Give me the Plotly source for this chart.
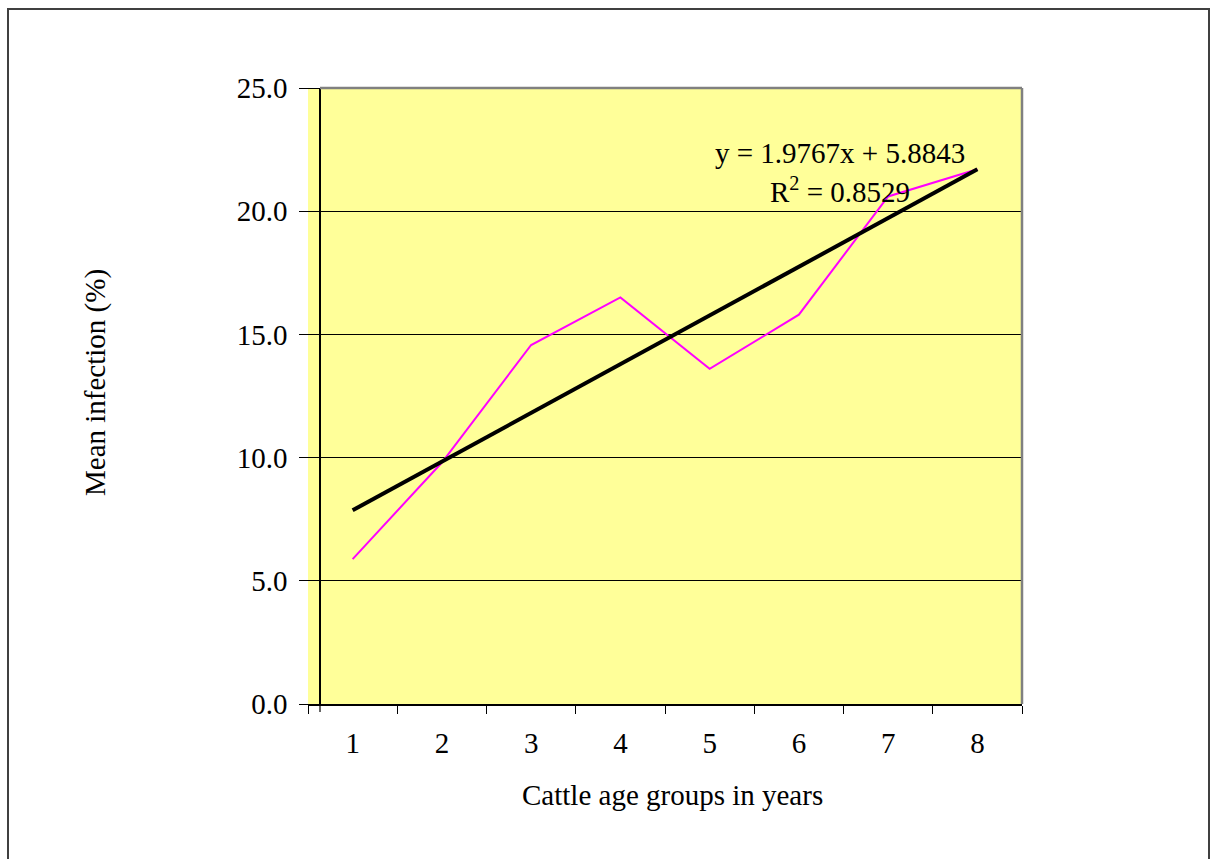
import plotly.graph_objects as go

# ---- data ----
age_groups = ["1", "2", "3", "4", "5", "6", "7", "8"]
mean_infection = [5.88, 9.8, 14.57, 16.5, 13.6, 15.8, 20.6, 21.7]
trend_slope = 1.9767
trend_intercept = 5.8843
y_ticks = [0, 5, 10, 15, 20, 25]
equation_text = "y = 1.9767x + 5.8843"
r2_text = "R<sup>2</sup> = 0.8529"

FONT = "Liberation Serif, Times New Roman, serif"
FS = 29

W, H = 1211, 859
L, R, T, B = 308, 1022, 88, 704
pw, ph = R - L, B - T


def px(x):
    return (x - L) / pw


def py(y):
    return (B - y) / ph


trend = [trend_slope * (i + 1) + trend_intercept for i in range(len(age_groups))]

fig = go.Figure()
fig.add_trace(go.Scatter(x=age_groups, y=mean_infection, mode="lines",
                         line=dict(color="#FF00FF", width=2), showlegend=False))
fig.add_trace(go.Scatter(x=age_groups, y=trend, mode="lines",
                         line=dict(color="#000000", width=4), showlegend=False))

fig.update_layout(
    width=W, height=H,
    margin=dict(l=L, r=W - R, t=T, b=H - B, pad=0),
    paper_bgcolor="white",
    plot_bgcolor="#FFFF99",
    font=dict(family=FONT, size=FS, color="black"),
    xaxis=dict(type="category", categoryarray=age_groups, tickson="boundaries",
               ticks="outside", ticklen=8, tickwidth=1.2, tickcolor="black",
               showline=True, linecolor="black", linewidth=1.5,
               showgrid=False, zeroline=False, ticklabelstandoff=12,
               tickfont=dict(family=FONT, size=FS, color="black"),
               range=[-0.5, 7.5]),
    yaxis=dict(range=[0, 25], tickvals=y_ticks, tickformat=".1f",
               anchor="free", position=12 / pw,
               ticks="outside", ticklen=20, tickwidth=1.2, tickcolor="black",
               showline=True, linecolor="black", linewidth=1.5,
               showgrid=True, gridcolor="black", gridwidth=1,
               zeroline=False, ticklabelstandoff=6,
               tickfont=dict(family=FONT, size=FS, color="black")),
)

# plot area border (grey top/right)
fig.add_shape(type="line", xref="paper", yref="paper", x0=px(320), x1=1, y0=1, y1=1,
              line=dict(color="#808080", width=2.5), layer="above")
fig.add_shape(type="line", xref="paper", yref="paper", x0=1, x1=1, y0=0, y1=1,
              line=dict(color="#808080", width=2.5), layer="above")
# y-axis extension tick below x axis
fig.add_shape(type="line", xref="paper", yref="paper", x0=px(320), x1=px(320),
              y0=py(704), y1=py(712), line=dict(color="black", width=1.2))
# outer chart border
fig.add_shape(type="rect", xref="paper", yref="paper",
              x0=px(8), x1=px(1209), y0=py(870), y1=py(9),
              line=dict(color="#404040", width=2))

fig.add_annotation(text=equation_text, xref="paper", yref="paper",
                   x=px(840), y=py(153), showarrow=False,
                   xanchor="center", yanchor="middle",
                   font=dict(family=FONT, size=FS, color="black"))
fig.add_annotation(text=r2_text, xref="paper", yref="paper",
                   x=px(840), y=py(190), showarrow=False,
                   xanchor="center", yanchor="middle",
                   font=dict(family=FONT, size=FS, color="black"))
fig.add_annotation(text="Mean infection (%)", xref="paper", yref="paper",
                   x=px(95), y=py(383), showarrow=False, textangle=-90,
                   xanchor="center", yanchor="middle",
                   font=dict(family=FONT, size=FS, color="black"))
fig.add_annotation(text="Cattle age groups in years", xref="paper", yref="paper",
                   x=px(672), y=py(795), showarrow=False,
                   xanchor="center", yanchor="middle",
                   font=dict(family=FONT, size=FS, color="black"))

fig.write_html("out.html")
